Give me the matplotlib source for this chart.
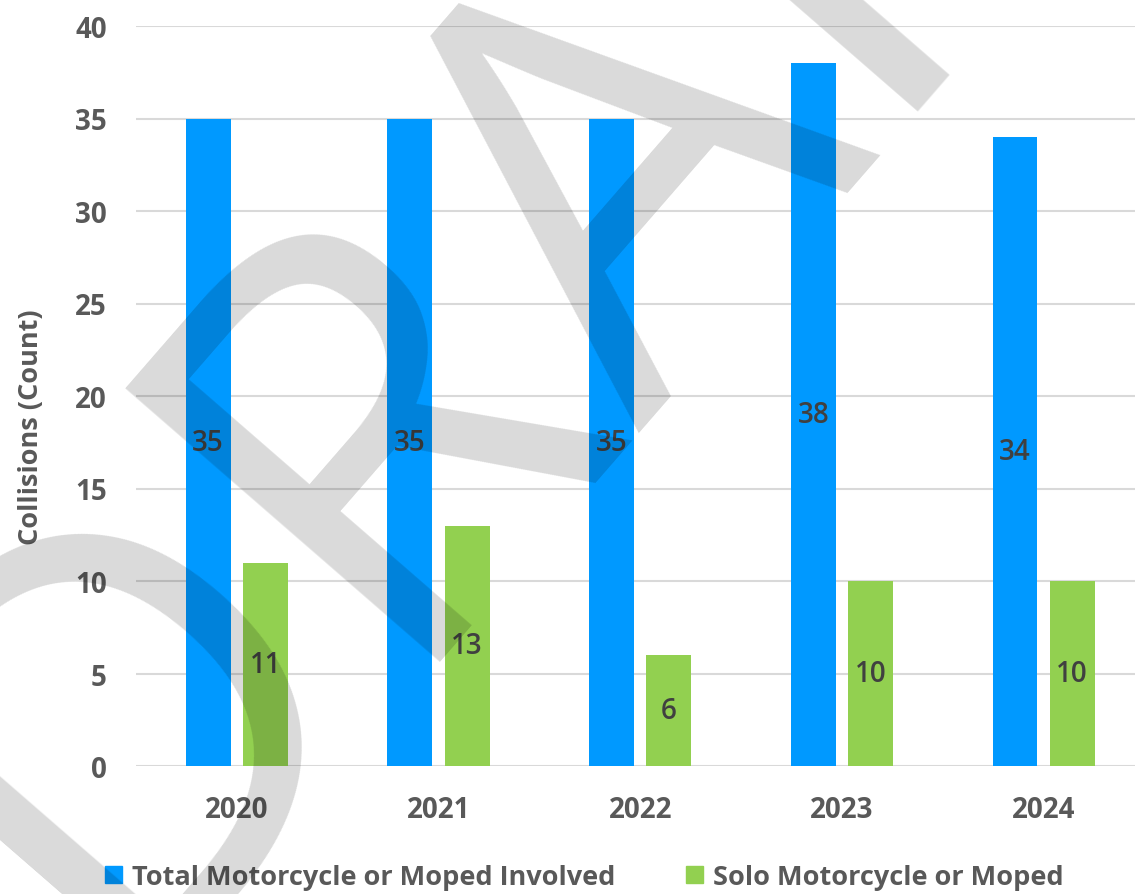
import matplotlib
matplotlib.use("Agg")
import matplotlib.pyplot as plt
import numpy as np
from matplotlib.patches import Patch

years = ["2020", "2021", "2022", "2023", "2024"]
total_involved = [35, 35, 35, 38, 34]
solo = [11, 13, 6, 10, 10]
series_names = ["Total Motorcycle or Moped Involved", "Solo Motorcycle or Moped"]
y_ticks = [0, 5, 10, 15, 20, 25, 30, 35, 40]

plt.rcParams['font.family'] = ['Open Sans', 'DejaVu Sans']

BLUE = "#0099FF"
GREEN = "#92D050"
TXT = "#595959"
LBL = "#404040"

fig = plt.figure(figsize=(11.35, 8.95), dpi=100)
ax = fig.add_axes([136/1135, 1-767/895, 1-136/1135, 740/895])

x = np.arange(len(years))
w = 0.223
off = 0.142
b1 = ax.bar(x - off, total_involved, w, color=BLUE, zorder=2)
b2 = ax.bar(x + off, solo, w, color=GREEN, zorder=2)

for bars, vals in ((b1, total_involved), (b2, solo)):
    for r, v in zip(bars, vals):
        ax.text(r.get_x() + r.get_width()/2, v/2, str(v), ha='center', va='center',
                fontsize=20, color=LBL, fontweight='semibold', zorder=3)

ax.set_ylim(0, 40)
ax.set_xlim(-0.5, -0.5 + 999/201.7)
ax.set_yticks(y_ticks)
ax.set_xticks(x)
ax.set_xticklabels(years)
ax.grid(axis='y', color='#D9D9D9', linewidth=1.5, zorder=0)
ax.set_axisbelow(True)
for s in ax.spines.values():
    s.set_visible(False)
ax.tick_params(axis='both', length=0, labelsize=20, labelcolor=TXT)
ax.tick_params(axis='y', pad=21)
ax.tick_params(axis='x', pad=21)
for lab in ax.get_xticklabels() + ax.get_yticklabels():
    lab.set_fontweight('bold')

fig.text(31/1135, 1-427/895, "Collisions (Count)", rotation=90, ha='center', va='center',
         fontsize=19.5, fontweight='bold', color=TXT)

handles = [Patch(color=BLUE), Patch(color=GREEN)]
leg = fig.legend(handles, series_names, loc='center', bbox_to_anchor=(584/1135, 1-878/895),
                 ncol=2, frameon=False, handlelength=0.63, handleheight=0.63, handletextpad=0.37,
                 columnspacing=2.6, borderpad=0, prop={'size': 19.5, 'weight': 'bold'})
for t in leg.get_texts():
    t.set_color(TXT)

fig.text(574/1135, 1-212/895, "DRAFT", rotation=49, rotation_mode='anchor',
         ha='center', va='center', fontsize=420, color='black', alpha=0.15, zorder=10)

fig.savefig("out.png", dpi=100)
